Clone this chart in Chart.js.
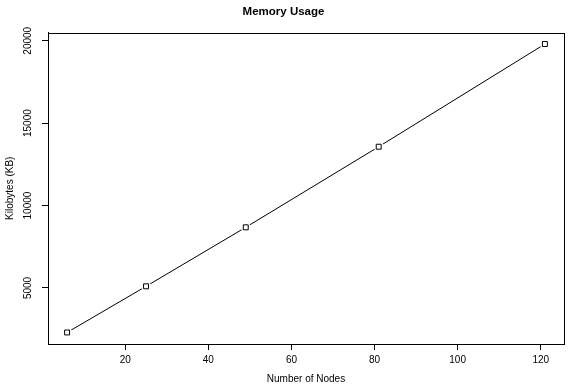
<!DOCTYPE html>
<html>
<head>
<meta charset="utf-8">
<script src="https://cdn.jsdelivr.net/npm/chart.js@4/dist/chart.umd.min.js"></script>
<style>
  html, body { margin: 0; padding: 0; background: #fff; }
  #wrap { width: 569px; height: 389px; }
</style>
</head>
<body>
<div id="wrap"><canvas id="c" width="569" height="389"></canvas></div>
<script>
// ---- data ----
const nodes = [6, 25, 49, 81, 121];
const kilobytes = [2300, 5100, 8680, 13570, 19800];
const xTicks = [20, 40, 60, 80, 100, 120];
const yTicks = [5000, 10000, 15000, 20000];
const titleText = 'Memory Usage';
const xTitle = 'Number of Nodes';
const yTitle = 'Kilobytes (KB)';

const pts = nodes.map((x, i) => ({ x: x, y: kilobytes[i] }));

Chart.defaults.font.family = '"Liberation Sans", Arial, Helvetica, sans-serif';
Chart.defaults.color = '#000';

const boxPlugin = {
  id: 'box',
  afterDraw(chart) {
    const a = chart.chartArea, ctx = chart.ctx;
    ctx.save();
    ctx.strokeStyle = '#000';
    ctx.lineWidth = 1;
    ctx.strokeRect(Math.round(a.left) + 0.5, Math.round(a.top) + 0.5,
                   Math.round(a.right) - Math.round(a.left), Math.round(a.bottom) - Math.round(a.top));
    ctx.restore();
  }
};

new Chart(document.getElementById('c'), {
  type: 'scatter',
  data: {
    datasets: [
      { data: pts, showLine: true, borderColor: '#000', borderWidth: 1, pointRadius: 0, fill: false, order: 3 },
      { data: pts, showLine: false, pointStyle: 'circle', pointRadius: 5, pointBackgroundColor: '#fff', pointBorderColor: '#fff', pointBorderWidth: 0, order: 2 },
      { data: pts, showLine: false, pointStyle: 'rect', pointRadius: 3.5, pointBackgroundColor: 'rgba(0,0,0,0)', pointBorderColor: '#000', pointBorderWidth: 1, order: 1 }
    ]
  },
  options: {
    responsive: false,
    animation: false,
    devicePixelRatio: 1,
    layout: { padding: { left: 0, right: 2, top: 0, bottom: 4 } },
    plugins: {
      legend: { display: false },
      tooltip: { enabled: false },
      title: {
        display: true, text: titleText, color: '#000',
        font: { size: 11.5, weight: 'bold' },
        padding: { top: 5, bottom: 13.7 }
      }
    },
    scales: {
      x: {
        type: 'linear', min: 1.4, max: 125.6,
        afterBuildTicks: s => { s.ticks = xTicks.map(v => ({ value: v })); },
        afterFit: s => { s.height = 41; },
        grid: { drawOnChartArea: false, tickLength: 6, color: '#000', lineWidth: 1 },
        border: { display: true, color: '#000', width: 1 },
        ticks: { font: { size: 10 }, color: '#000', padding: 4, maxRotation: 0, autoSkip: false, callback: v => String(v) },
        title: { display: true, text: xTitle, color: '#000', font: { size: 10 }, padding: { top: 0, bottom: 0 } }
      },
      y: {
        type: 'linear', min: 1600, max: 20500,
        afterBuildTicks: s => { s.ticks = yTicks.map(v => ({ value: v })); },
        afterFit: s => { s.width = 48; },
        grid: { drawOnChartArea: false, tickLength: 6, color: '#000', lineWidth: 1 },
        border: { display: true, color: '#000', width: 1 },
        ticks: { font: { size: 10 }, color: '#000', padding: 0, minRotation: 90, maxRotation: 90, crossAlign: 'center', autoSkip: false, callback: v => String(v) },
        title: { display: true, text: yTitle, color: '#000', font: { size: 10 }, padding: { top: 4, bottom: 0 } }
      }
    }
  },
  plugins: [boxPlugin]
});
</script>
</body>
</html>
